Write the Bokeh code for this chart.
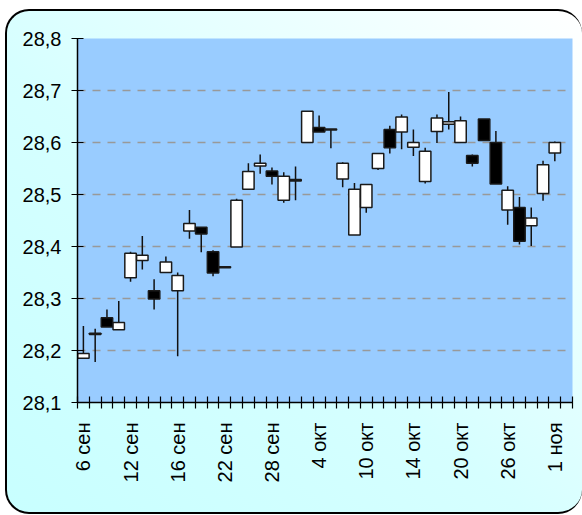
import math
from bokeh.plotting import figure
from bokeh.models import FixedTicker, CustomJSTickFormatter, Range1d, ColumnDataSource
from bokeh.embed import file_html
from bokeh.resources import INLINE

# Trading days (Sep 6 - Nov 1)
dates = ["6 сен", "7 сен", "8 сен", "9 сен", "12 сен", "13 сен", "14 сен", "15 сен", "16 сен",
         "19 сен", "20 сен", "21 сен", "22 сен", "23 сен", "26 сен", "27 сен", "28 сен", "29 сен", "30 сен",
         "3 окт", "4 окт", "5 окт", "6 окт", "7 окт", "10 окт", "11 окт", "12 окт", "13 окт", "14 окт",
         "17 окт", "18 окт", "19 окт", "20 окт", "21 окт", "24 окт", "25 окт", "26 окт", "27 окт", "28 окт",
         "31 окт", "1 ноя"]

opens = [28.185, 28.233, 28.263, 28.240, 28.340, 28.373, 28.315, 28.350, 28.315,
         28.430, 28.437, 28.390, 28.361, 28.399, 28.510, 28.555, 28.545, 28.489, 28.529,
         28.600, 28.629, 28.626, 28.530, 28.422, 28.475, 28.550, 28.625, 28.620, 28.591,
         28.525, 28.621, 28.635, 28.600, 28.575, 28.645, 28.600, 28.470, 28.475, 28.440,
         28.502, 28.580]
highs = [28.247, 28.242, 28.279, 28.295, 28.390, 28.420, 28.337, 28.381, 28.350,
         28.470, 28.437, 28.393, 28.361, 28.492, 28.560, 28.577, 28.552, 28.543, 28.554,
         28.660, 28.652, 28.626, 28.562, 28.522, 28.519, 28.579, 28.632, 28.654, 28.625,
         28.590, 28.654, 28.697, 28.650, 28.577, 28.645, 28.622, 28.516, 28.495, 28.475,
         28.565, 28.602]
lows = [28.185, 28.178, 28.245, 28.240, 28.332, 28.356, 28.279, 28.350, 28.189,
        28.415, 28.389, 28.343, 28.359, 28.399, 28.510, 28.540, 28.519, 28.484, 28.489,
        28.600, 28.620, 28.589, 28.514, 28.422, 28.465, 28.547, 28.579, 28.587, 28.574,
        28.521, 28.599, 28.625, 28.600, 28.554, 28.604, 28.520, 28.442, 28.404, 28.401,
        28.488, 28.564]
closes = [28.194, 28.231, 28.245, 28.254, 28.387, 28.383, 28.299, 28.370, 28.344,
          28.444, 28.424, 28.349, 28.359, 28.489, 28.544, 28.560, 28.535, 28.535, 28.526,
          28.660, 28.620, 28.624, 28.560, 28.510, 28.519, 28.579, 28.590, 28.649, 28.600,
          28.583, 28.647, 28.640, 28.642, 28.560, 28.604, 28.520, 28.508, 28.410, 28.455,
          28.557, 28.600]

y_ticks = [28.1, 28.2, 28.3, 28.4, 28.5, 28.6, 28.7, 28.8]
label_every = 4

n = len(dates)
xs = list(range(n))
src = ColumnDataSource(dict(
    x=xs,
    top=[max(o, c) for o, c in zip(opens, closes)],
    bottom=[min(o, c) for o, c in zip(opens, closes)],
    high=highs,
    low=lows,
    fill=["white" if c > o else "black" for o, c in zip(opens, closes)],
))

p = figure(width=577, height=505,
           x_range=Range1d(-0.5, n + 0.5), y_range=Range1d(y_ticks[0], y_ticks[-1]),
           output_backend="svg", toolbar_location=None,
           min_border_left=70, min_border_right=12, min_border_top=27, min_border_bottom=114)
p.margin = (9, 0, 0, 5)

p.background_fill_color = "#99ccff"
p.border_fill_color = None
p.outline_line_color = None
p.styles = {
    "border-top": "2px solid black",
    "border-left": "2px solid black",
    "border-bottom": "2px solid black",
    "border-right": "0px solid black",
    "border-radius": "24px",
    "overflow": "hidden",
    "background": "linear-gradient(to top right, #c8ffff 0%, #d6ffff 45%, #ffffff 100%)",
}

p.segment(x0="x", y0="low", x1="x", y1="high", source=src, line_color="#111111", line_width=1.5)
p.vbar(x="x", top="top", bottom="bottom", width=0.97, source=src,
       fill_color="fill", line_color="#1a1a1a", line_width=1.5)

label_ticks = list(range(0, n, label_every))
xa = p.xaxis[0]
xa.ticker = FixedTicker(ticks=label_ticks, minor_ticks=[i - 0.5 for i in range(n + 2)])
xa.major_label_overrides = {i: dates[i] for i in label_ticks}
xa.major_tick_in = 0
xa.major_tick_out = 0
xa.minor_tick_in = 6
xa.minor_tick_out = 6
xa.minor_tick_line_color = "black"
xa.minor_tick_line_width = 1.2
xa.axis_line_color = "black"
xa.axis_line_width = 1.5
xa.major_label_orientation = math.pi / 2
xa.major_label_standoff = 14
xa.major_label_text_font = "Liberation Sans"
xa.major_label_text_font_size = "20px"
xa.major_label_text_color = "black"

ya = p.yaxis[0]
ya.ticker = FixedTicker(ticks=y_ticks, minor_ticks=[])
ya.formatter = CustomJSTickFormatter(code="return tick.toFixed(1).replace('.', ',');")
ya.major_tick_in = 6
ya.major_tick_out = 6
ya.major_tick_line_color = "black"
ya.major_tick_line_width = 1.2
ya.axis_line_color = "black"
ya.axis_line_width = 1.5
ya.major_label_standoff = 10
ya.major_label_text_font = "Liberation Sans"
ya.major_label_text_font_size = "20px"
ya.major_label_text_color = "black"

p.xgrid.visible = False
p.ygrid.grid_line_color = "#999999"
p.ygrid.grid_line_width = 1.5
p.ygrid.grid_line_dash = "8 7"

open("out.html", "w").write(file_html(p, INLINE))
